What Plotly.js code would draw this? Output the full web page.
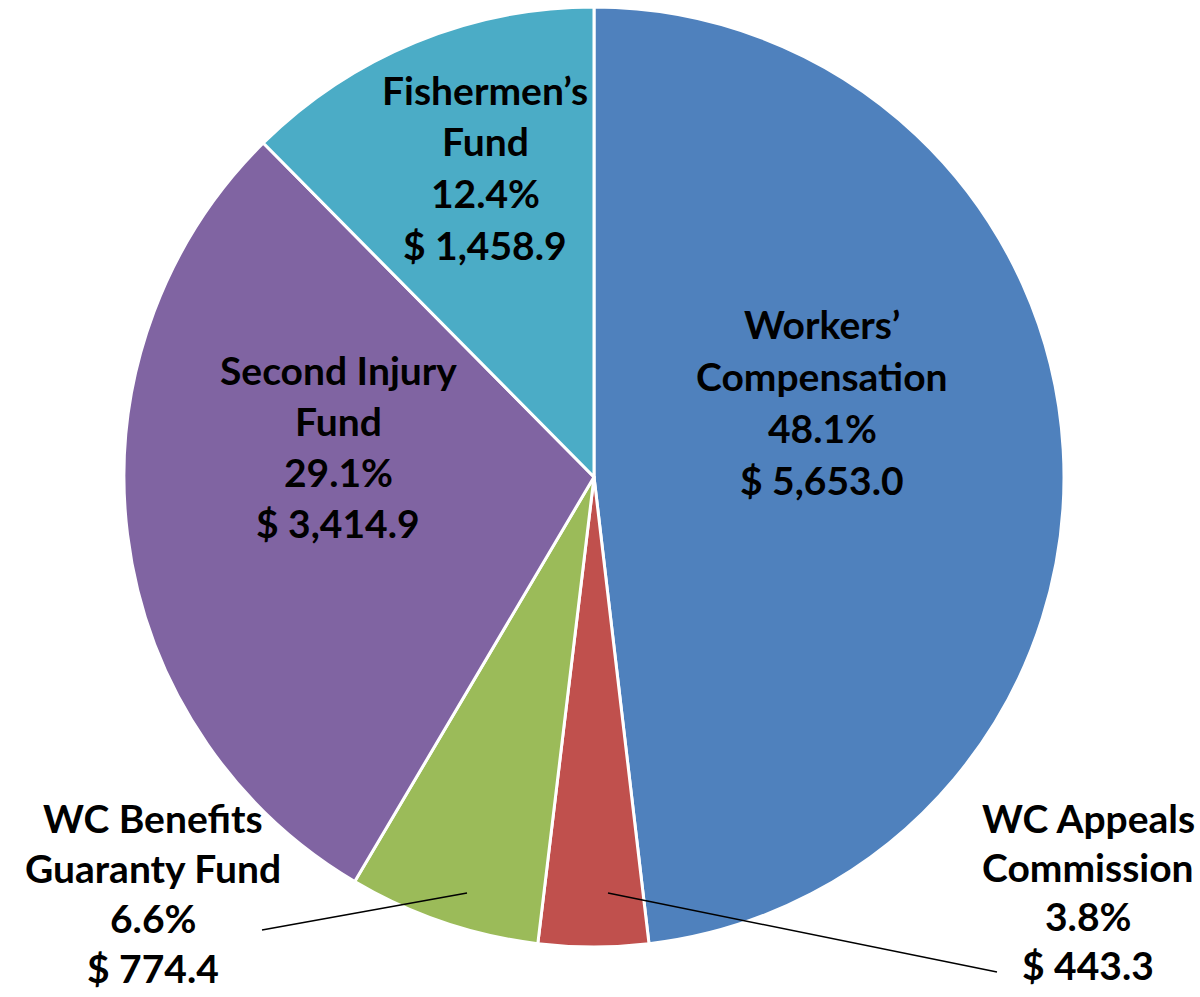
<!DOCTYPE html>
<html>
<head>
<meta charset="utf-8">
<script src="https://cdn.plot.ly/plotly-3.0.1.min.js"></script>
<style>html,body{margin:0;padding:0;background:#fff;}#chart{width:1200px;height:997px;}</style>
</head>
<body>
<div id="chart"></div>
<script>
// Data
const labels = ["Workers’ Compensation", "WC Appeals Commission", "WC Benefits Guaranty Fund", "Second Injury Fund", "Fishermen’s Fund"];
const labelLines = [["Workers’", "Compensation"], ["WC Appeals", "Commission"], ["WC Benefits", "Guaranty Fund"], ["Second Injury", "Fund"], ["Fishermen’s", "Fund"]];
const values = [5653.0, 443.3, 774.4, 3414.9, 1458.9];
const colors = ["#4F81BD", "#C0504D", "#9BBB59", "#8064A2", "#4BACC6"];

// Label layout (pixel positions of label centres, first line)
const W = 1200, H = 997;
const labelPos = [
  {x: 822, y: 324, step: 52},
  {x: 1088, y: 818, step: 49},
  {x: 153, y: 818, step: 50},
  {x: 338, y: 370, step: 51},
  {x: 485, y: 90, step: 51.5}
];
const leaders = [null, {x0: 608, y0: 893, x1: 997, y1: 972}, {x0: 467, y0: 893, x1: 262, y1: 930}, null, null];

const total = values.reduce((a, b) => a + b, 0);
const fmtMoney = v => "$ " + v.toLocaleString("en-US", {minimumFractionDigits: 1, maximumFractionDigits: 1});
const fontSpec = {family: "Lato, 'Open Sans', sans-serif", size: 39, color: "#000000", weight: 700};

const annotations = [];
const shapes = [];
values.forEach((v, i) => {
  const lines = labelLines[i].concat([(v / total * 100).toFixed(1) + "%", fmtMoney(v)]);
  lines.forEach((t, k) => {
    annotations.push({
      text: "<b>" + t + "</b>",
      xref: "paper", yref: "paper",
      x: labelPos[i].x / W, y: 1 - (labelPos[i].y + k * labelPos[i].step) / H,
      xanchor: "center", yanchor: "middle",
      showarrow: false, font: fontSpec
    });
  });
  const L = leaders[i];
  if (L) {
    shapes.push({type: "line", xref: "paper", yref: "paper",
      x0: L.x0 / W, y0: 1 - L.y0 / H, x1: L.x1 / W, y1: 1 - L.y1 / H,
      line: {color: "#000000", width: 1.5}});
  }
});

const trace = {
  type: "pie",
  labels: labels,
  values: values,
  sort: false,
  direction: "clockwise",
  rotation: 0,
  marker: {colors: colors, line: {color: "#FFFFFF", width: 3}},
  textinfo: "none",
  hoverinfo: "label+percent+value",
  domain: {x: [(594 - 470) / W, (594 + 470) / W], y: [(H - 477 - 470) / H, (H - 477 + 470) / H]},
  showlegend: false
};

const layout = {
  width: W, height: H,
  margin: {l: 0, r: 0, t: 0, b: 0},
  paper_bgcolor: "#FFFFFF",
  showlegend: false,
  annotations: annotations,
  shapes: shapes
};

Plotly.newPlot("chart", [trace], layout, {displayModeBar: false, staticPlot: true});
</script>
</body>
</html>
